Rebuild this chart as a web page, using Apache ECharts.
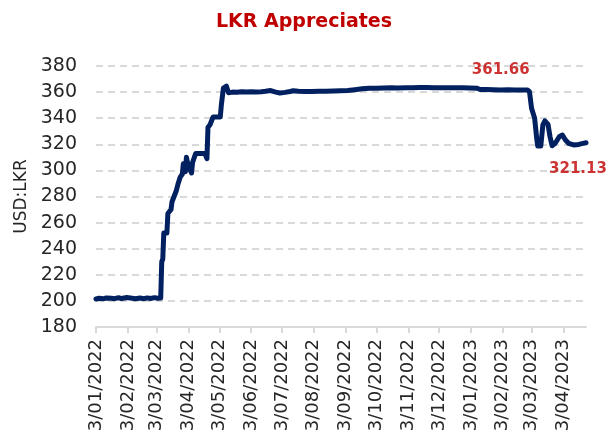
<!DOCTYPE html>
<html>
<head>
<meta charset="utf-8">
<script src="https://cdn.jsdelivr.net/npm/echarts@6/dist/echarts.min.js"></script>
<style>
html,body{margin:0;padding:0;background:#fff;}
#chart{width:608px;height:446px;}
</style>
</head>
<body>
<div id="chart"></div>
<script>
// ---- Data ----
const dates = [
'2022-01-03','2022-01-06','2022-01-10','2022-01-13','2022-01-18','2022-01-21','2022-01-25','2022-01-28',
'2022-02-02','2022-02-07','2022-02-10','2022-02-15','2022-02-18','2022-02-22','2022-02-25',
'2022-03-01','2022-03-04','2022-03-07','2022-03-08','2022-03-09','2022-03-10','2022-03-13','2022-03-14',
'2022-03-17','2022-03-18','2022-03-20','2022-03-22','2022-03-24','2022-03-26','2022-03-28','2022-03-29',
'2022-03-31','2022-04-01','2022-04-03','2022-04-06','2022-04-07','2022-04-10','2022-04-13','2022-04-19',
'2022-04-21','2022-04-22','2022-04-24','2022-04-27','2022-05-04','2022-05-05','2022-05-07','2022-05-10',
'2022-05-12','2022-05-16','2022-05-20','2022-05-25','2022-05-30','2022-06-03','2022-06-08','2022-06-13',
'2022-06-17','2022-06-22','2022-06-27','2022-07-01','2022-07-06','2022-07-11','2022-07-14','2022-07-19',
'2022-07-25','2022-08-01','2022-08-08','2022-08-15','2022-08-22','2022-08-29','2022-09-05','2022-09-12',
'2022-09-19','2022-09-26','2022-10-03','2022-10-10','2022-10-17','2022-10-24','2022-10-31','2022-11-07',
'2022-11-14','2022-11-21','2022-11-28','2022-12-05','2022-12-12','2022-12-19','2022-12-26','2023-01-02',
'2023-01-09','2023-01-12','2023-01-18','2023-01-25','2023-02-01','2023-02-08','2023-02-15','2023-02-22',
'2023-02-27','2023-03-01','2023-03-03','2023-03-06','2023-03-08','2023-03-09','2023-03-12','2023-03-14',
'2023-03-16','2023-03-19','2023-03-21','2023-03-23','2023-03-26','2023-03-30','2023-04-02','2023-04-05',
'2023-04-08','2023-04-13','2023-04-18','2023-04-21','2023-04-25'
];
const usdLkr = [
201.5,202.0,201.6,202.3,202.0,201.7,202.4,201.8,
202.6,202.1,201.6,202.2,201.7,202.3,201.8,
202.5,202.0,202.3,230.0,232.0,252.0,252.0,267.0,
270.0,276.0,280.0,284.0,290.0,295.0,297.0,305.0,
299.0,310.0,303.0,298.0,306.0,313.0,313.0,313.0,
309.0,333.0,335.0,341.0,341.0,350.0,363.0,364.5,
359.5,360.0,359.8,360.2,360.0,360.3,360.0,360.2,
360.6,361.2,360.0,359.3,359.8,360.5,361.0,360.6,
360.4,360.5,360.6,360.6,360.8,361.0,361.2,361.8,
362.5,363.0,363.0,363.2,363.3,363.2,363.4,363.4,
363.5,363.5,363.4,363.3,363.4,363.3,363.3,363.2,
363.0,362.0,361.9,361.8,361.66,361.8,361.7,361.7,
361.6,360.3,347.6,340.0,324.6,318.7,318.7,334.8,
337.9,335.3,325.8,318.9,320.8,325.8,327.1,323.3,
320.8,319.5,319.9,320.5,321.13
];
// Axis tick dates and their labels
const tickDates = ['2022-01-03','2022-02-03','2022-03-03','2022-04-03','2022-05-03','2022-06-03','2022-07-03','2022-08-03',
'2022-09-03','2022-10-03','2022-11-03','2022-12-03','2023-01-03','2023-02-03','2023-03-03','2023-04-03'];
const tickLabels = ['3/01/2022','3/02/2022','3/03/2022','3/04/2022','3/05/2022','3/06/2022','3/07/2022','3/08/2022',
'3/09/2022','3/10/2022','3/11/2022','3/12/2022','3/01/2023','3/02/2023','3/03/2023','3/04/2023'];
const yTicks = [180,200,220,240,260,280,300,320,340,360,380];
// Annotated points
const labelDates = ['2023-02-01','2023-04-25'];
const labelValues = [361.66, 321.13];

// ---- Helpers: date -> day number on the value axis ----
const startDate = dates[0];
function dayNum(s){
  const p = s.split('-').map(Number);
  const q = startDate.split('-').map(Number);
  return Math.round((Date.UTC(p[0],p[1]-1,p[2]) - Date.UTC(q[0],q[1]-1,q[2]))/86400000);
}
const lineData = dates.map((d,i)=>[dayNum(d), usdLkr[i]]);
const tickDays = tickDates.map(dayNum);
const labelMap = {};
tickDays.forEach((d,i)=>{labelMap[d]=tickLabels[i];});

const chart = echarts.init(document.getElementById('chart'), null, {renderer:'canvas'});
const FONT = 'DejaVu Sans';
const option = {
  animation:false,
  backgroundColor:'#ffffff',
  title:{
    text:'LKR Appreciates', left:'center', top:8,
    textStyle:{color:'#C00000', fontFamily:FONT, fontWeight:'bold', fontSize:19}
  },
  grid:{left:96, right:22, top:66, bottom:119, containLabel:false},
  xAxis:{
    type:'value', min:0, max:dayNum(dates[dates.length-1]),
    splitLine:{show:false},
    axisLine:{show:true, lineStyle:{color:'#d9d9d9', width:2}},
    axisTick:{show:true, customValues:tickDays, length:6, lineStyle:{color:'#d9d9d9', width:2}},
    axisLabel:{
      customValues:tickDays, rotate:90, margin:12,
      color:'#262626', fontFamily:FONT, fontSize:18,
      formatter:(v)=>labelMap[v] || ''
    }
  },
  yAxis:{
    type:'value', min:yTicks[0], max:yTicks[yTicks.length-1], interval:20,
    name:'USD:LKR', nameLocation:'middle', nameGap:66, nameRotate:90,
    nameTextStyle:{color:'#262626', fontFamily:FONT, fontSize:17},
    axisLine:{show:false}, axisTick:{show:false},
    axisLabel:{color:'#262626', fontFamily:FONT, fontSize:19, margin:19},
    splitLine:{show:true, showMinLine:false, lineStyle:{color:'#d9d9d9', width:2, type:[7,5]}}
  },
  series:[
    {
      type:'line', data:lineData, showSymbol:false, symbol:'none',
      lineStyle:{color:'#002060', width:5, cap:'round', join:'round'},
      z:3
    },
    {
      type:'scatter', symbolSize:0, z:4,
      data:labelDates.map((d,i)=>({
        value:[dayNum(d), labelValues[i]],
        label:{
          show:true,
          position: i===0 ? 'top' : 'bottom',
          distance: i===0 ? 12 : 19,
          offset: i===0 ? [0,0] : [-8,0],
          formatter: labelValues[i].toFixed(2),
          color:'#C00000', fontFamily:FONT, fontWeight:'bold', fontSize:15
        }
      }))
    }
  ]
};
chart.setOption(option);
</script>
</body>
</html>
